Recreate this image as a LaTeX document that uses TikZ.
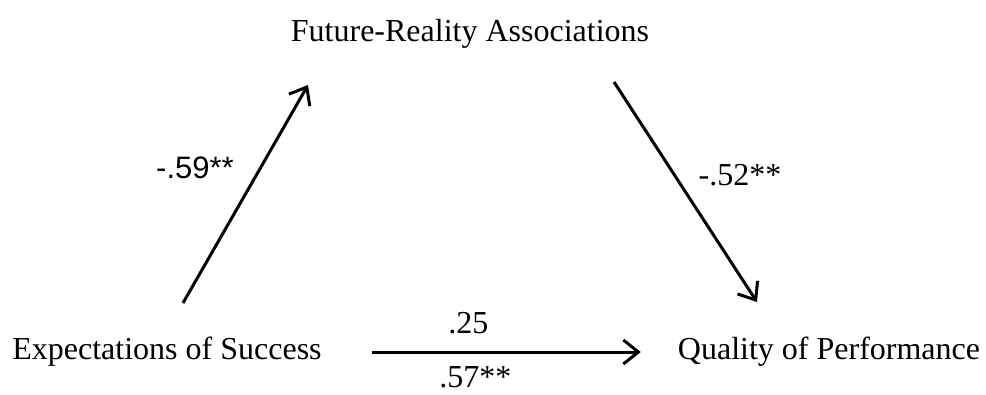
\documentclass[tikz,border=0pt]{standalone}
\usepackage{fontspec}
\setmainfont{Liberation Serif}
\newfontfamily\coefsans{Liberation Sans}
\usetikzlibrary{arrows.meta}

\begin{document}
\begin{tikzpicture}[
  x=1pt, y=-1pt,
  every node/.style={font=\fontsize{32}{37}\selectfont},
  var/.style={inner sep=4pt},
  coef/.style={inner sep=2pt},
  path/.style={-{Straight Barb[length=15pt,width=24pt,line width=3pt]}, line width=3pt},
]
\useasboundingbox (0,0) rectangle (986,394);

% -- Variables --
\node[var] (fra)  at (470,34)  {Future-Reality Associations};
\node[var] (exp)  at (167,352) {Expectations of Success};
\node[var] (qual) at (829,352) {Quality of Performance};

% -- Arrow ends --
\coordinate (expup)   at (183,303);
\coordinate (fraleft) at (308,85);
\coordinate (frarght) at (614,82);
\coordinate (qualup)  at (757,302);

% -- Paths --
\draw[path] (expup) -- (fraleft);
\draw[path] (frarght) -- (qualup);
\draw[path, shorten <=46pt, shorten >=33pt] (exp.east) --
  node[coef, above=15pt, pos=0.41] (c) {.25}
  node[coef, below=11pt, pos=0.43] (cp) {.57**} (qual.west);

% -- Coefficients --
\node[coef] (a) at (195,168) {\coefsans\fontsize{31}{36}\selectfont -.59**};
\node[coef] (b) at (740,175) {-.52**};

\end{tikzpicture}
\end{document}
